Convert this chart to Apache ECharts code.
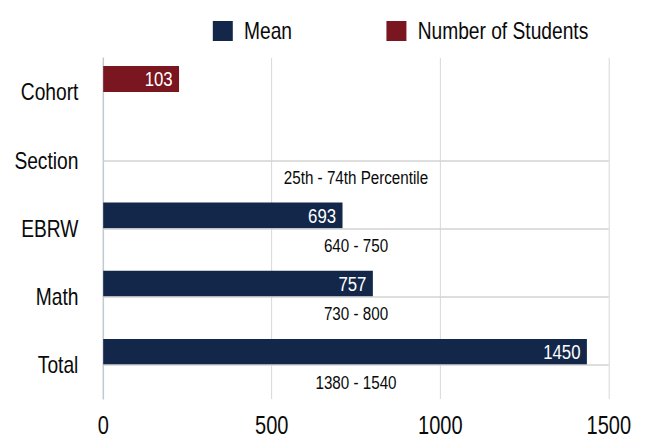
<!DOCTYPE html>
<html>
<head>
<meta charset="utf-8">
<script src="https://cdn.jsdelivr.net/npm/echarts@6/dist/echarts.min.js"></script>
<style>
html,body{margin:0;padding:0;background:#fff;overflow:hidden;width:648px;height:438px;}
/* The reference uses a narrow (condensed) typeface; render wider and compress horizontally */
#chart{width:810px;height:438px;transform:scaleX(0.8);transform-origin:0 0;}
</style>
</head>
<body>
<div id="chart"></div>
<script>
// Categories (top to bottom)
const categories = ['Cohort', 'Section', 'EBRW', 'Math', 'Total'];
// Bar lengths as drawn in the picture
const meanBars = ['-', '-', 710, 800, 1435];
const studentBars = [225, '-', '-', '-', '-'];
// Value labels printed on the bars
const meanLabels = ['', '', '693', '757', '1450'];
const studentLabels = ['103', '', '', '', ''];
// Percentile range text under each bar (placed on an invisible full-width bar)
const rangeBars = ['-', 1500, 1500, 1500, 1500];
const rangeLabels = ['', '25th - 74th Percentile', '640 - 750', '730 - 800', '1380 - 1540'];
// Axis ticks
const xTicks = { min: 0, max: 1500, interval: 500 };
// Rows with a divider line
const dividerRows = ['Section', 'EBRW', 'Math', 'Total'];

const FONT = '"Liberation Sans", Arial, sans-serif';
const NAVY = '#13274A';
const MAROON = '#7A1620';
const INK = '#0a0a0a';

const chart = echarts.init(document.getElementById('chart'), null, { renderer: 'svg' });
chart.setOption({
  animation: false,
  textStyle: { fontFamily: FONT },
  legend: {
    data: ['Mean', 'Number of Students'],
    left: 261, top: 14,
    itemWidth: 25, itemHeight: 20, itemGap: 118,
    icon: 'rect',
    textStyle: { fontFamily: FONT, fontSize: 24, color: INK, padding: [0, 0, 0, 9] }
  },
  grid: { left: 129, right: 49, top: 58, bottom: 38, containLabel: false },
  xAxis: {
    type: 'value', min: xTicks.min, max: xTicks.max, interval: xTicks.interval,
    axisLine: { show: false }, axisTick: { show: false },
    axisLabel: { fontFamily: FONT, fontSize: 25, color: INK, margin: 14, formatter: v => String(v) },
    splitLine: { show: true, lineStyle: { color: '#d3d3d3', width: 1 } }
  },
  yAxis: {
    type: 'category', data: categories, inverse: true,
    axisLine: { show: true, lineStyle: { color: '#bcc6cc', width: 1.5 } },
    axisTick: { show: false },
    axisLabel: { fontFamily: FONT, fontSize: 24, color: INK, margin: 31 },
    splitLine: { show: false }
  },
  series: [
    {
      name: 'Mean', type: 'bar', stack: 'a', data: meanBars,
      barWidth: 26, barGap: '0%',
      itemStyle: { color: NAVY },
      label: {
        show: true, position: 'insideRight', distance: 8, color: '#fff',
        fontFamily: FONT, fontSize: 21,
        formatter: p => meanLabels[p.dataIndex]
      },
      z: 3
    },
    {
      name: 'Number of Students', type: 'bar', stack: 'a', data: studentBars,
      barWidth: 26, barGap: '0%',
      itemStyle: { color: MAROON },
      label: {
        show: true, position: 'insideRight', distance: 8, color: '#fff',
        fontFamily: FONT, fontSize: 21,
        formatter: p => studentLabels[p.dataIndex]
      },
      z: 3
    },
    {
      name: 'Range', type: 'bar', data: rangeBars,
      barWidth: 26, barGap: '0%',
      itemStyle: { color: 'rgba(0,0,0,0)' },
      label: {
        show: true, position: 'inside', color: INK, offset: [0, 4],
        fontFamily: FONT, fontSize: 19,
        formatter: p => rangeLabels[p.dataIndex]
      },
      silent: true, z: 2
    },
    {
      name: 'Dividers', type: 'scatter', data: [], silent: true,
      markLine: {
        silent: true, symbol: 'none', animation: false,
        label: { show: false },
        lineStyle: { color: '#d3d3d3', type: 'solid', width: 1.5 },
        data: dividerRows.map(r => ({ yAxis: r }))
      },
      z: 1
    }
  ]
});
</script>
</body>
</html>
